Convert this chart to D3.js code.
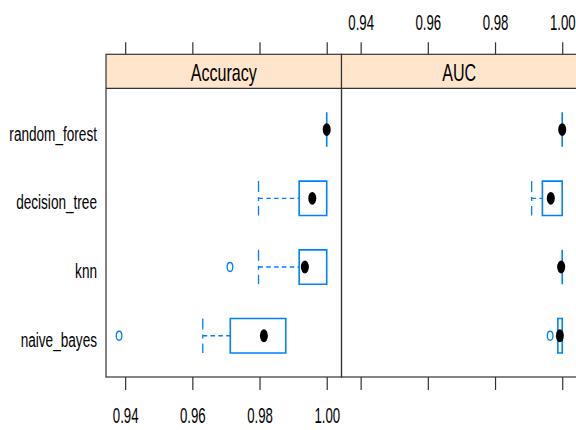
<!DOCTYPE html>
<html>
<head>
<meta charset="utf-8">
<script src="https://cdn.jsdelivr.net/npm/d3@7"></script>
<style>
  body { margin: 0; background: #fff; }
  text { font-family: "Liberation Sans", Arial, sans-serif; fill: #000; }
</style>
</head>
<body>
<script>
// models, top to bottom
const models = ["random_forest", "decision_tree", "knn", "naive_bayes"];
const metrics = ["Accuracy", "AUC"];
const tickValues = [0.94, 0.96, 0.98, 1.00];

// box stats per model: [lower whisker, q1, median, q3, upper whisker]
const accuracyStats = [
  [1.0, 1.0, 1.0, 1.0, 1.0],
  [0.9797, 0.9918, 0.9957, 1.0, 1.0],
  [0.9797, 0.9918, 0.9935, 1.0, 1.0],
  [0.9631, 0.9713, 0.9813, 0.9878, 0.9878]
];
const accuracyOutliers = [[], [], [0.9712], [0.9382]];

const aucStats = [
  [1.0, 1.0, 1.0, 1.0, 1.0],
  [0.9909, 0.9941, 0.9966, 1.0, 1.0],
  [1.0, 1.0, 0.9997, 1.0, 1.0],
  [0.9987, 0.9987, 0.9993, 1.0, 1.0]
];
const aucOutliers = [[], [], [0.9996], [0.9964]];

const width = 576, height = 430;
const panelW = 235.5;
const panelLeft = 106;
const stripTop = 54.3, stripBottom = 88.3, panelBottom = 377;
const blue = "#0080ff";

const svg = d3.select("body").append("svg")
    .attr("width", width)
    .attr("height", height);

const y = d3.scalePoint()
    .domain(models)
    .range([stripBottom, panelBottom])
    .padding(0.6);
const half = y.step() * 0.25;

const panels = [
  { name: metrics[0], stats: accuracyStats, outliers: accuracyOutliers, x0: panelLeft },
  { name: metrics[1], stats: aucStats, outliers: aucOutliers, x0: panelLeft + panelW }
];

panels.forEach((p, pi) => {
  const x = d3.scaleLinear()
      .domain([0.9343, 1.0044])
      .range([p.x0, p.x0 + panelW]);

  // strip
  svg.append("rect")
      .attr("x", p.x0).attr("y", stripTop)
      .attr("width", panelW).attr("height", stripBottom - stripTop)
      .attr("fill", "#ffe5cc");
  svg.append("text")
      .attr("transform", `translate(${p.x0 + panelW / 2},80.5) scale(0.67,1)`)
      .attr("text-anchor", "middle")
      .style("font-size", "24px")
      .text(p.name);

  const g = svg.append("g");

  p.stats.forEach((s, i) => {
    const cy = y(models[i]);
    const [lo, q1, med, q3, hi] = s;

    // whiskers
    [[lo, q1], [q3, hi]].forEach(([a, b]) => {
      if (a === b) return;
      g.append("line")
          .attr("x1", x(a)).attr("x2", x(b))
          .attr("y1", cy).attr("y2", cy)
          .attr("stroke", blue).attr("stroke-width", 1.3)
          .attr("stroke-dasharray", "4.5,3.3");
    });
    [lo, hi].forEach((v, k) => {
      const other = k === 0 ? q1 : q3;
      if (v === other) return;
      g.append("line")
          .attr("x1", x(v)).attr("x2", x(v))
          .attr("y1", cy - half).attr("y2", cy + half)
          .attr("stroke", blue).attr("stroke-width", 1.3)
          .attr("stroke-dasharray", "11,5,4,5");
    });

    // box (as a path so a zero-width box still shows as a line)
    const bx0 = x(q1), bx1 = x(q3);
    g.append("path")
        .attr("d", `M${bx0},${cy - half}H${bx1}V${cy + half}H${bx0}Z`)
        .attr("fill", "none")
        .attr("stroke", blue).attr("stroke-width", 1.6);

    // outliers
    p.outliers[i].forEach(v => {
      g.append("ellipse")
          .attr("cx", x(v)).attr("cy", cy)
          .attr("rx", 2.8).attr("ry", 4.5)
          .attr("fill", "none")
          .attr("stroke", blue).attr("stroke-width", 1.3);
    });

    // median dot
    g.append("ellipse")
        .attr("cx", x(med)).attr("cy", cy)
        .attr("rx", 4).attr("ry", 6.4)
        .attr("fill", "#000");
  });

  // frame
  svg.append("rect")
      .attr("x", p.x0).attr("y", stripTop)
      .attr("width", panelW).attr("height", panelBottom - stripTop)
      .attr("fill", "none").attr("stroke", "#333").attr("stroke-width", 1.2);
  svg.append("line")
      .attr("x1", p.x0).attr("x2", p.x0 + panelW)
      .attr("y1", stripBottom).attr("y2", stripBottom)
      .attr("stroke", "#333").attr("stroke-width", 1.2);

  // axes: labels at bottom for first panel, top for second
  const fmt = d3.format(".2f");
  const bottom = svg.append("g")
      .attr("transform", `translate(0,${panelBottom})`)
      .call(d3.axisBottom(x).tickValues(tickValues).tickSize(13).tickSizeOuter(0)
        .tickPadding(17).tickFormat(pi === 0 ? fmt : () => ""));
  const top = svg.append("g")
      .attr("transform", `translate(0,${stripTop})`)
      .call(d3.axisTop(x).tickValues(tickValues).tickSize(12).tickSizeOuter(0)
        .tickPadding(12).tickFormat(pi === 1 ? fmt : () => ""));

  [bottom, top].forEach(ax => {
    ax.attr("font-size", null).attr("font-family", null);
    ax.select(".domain").remove();
    ax.selectAll("line").attr("stroke", "#333").attr("stroke-width", 1.2);
    ax.selectAll("text")
        .style("font-size", "22px")
        .style("fill", "#000")
        .attr("transform", "scale(0.6,1)");
  });
});

// row labels
svg.append("g")
  .selectAll("text")
  .data(models)
  .join("text")
    .attr("transform", d => `translate(97,${y(d) + 11}) scale(0.68,1)`)
    .attr("text-anchor", "end")
    .style("font-size", "20px")
    .text(d => d);
</script>
</body>
</html>
